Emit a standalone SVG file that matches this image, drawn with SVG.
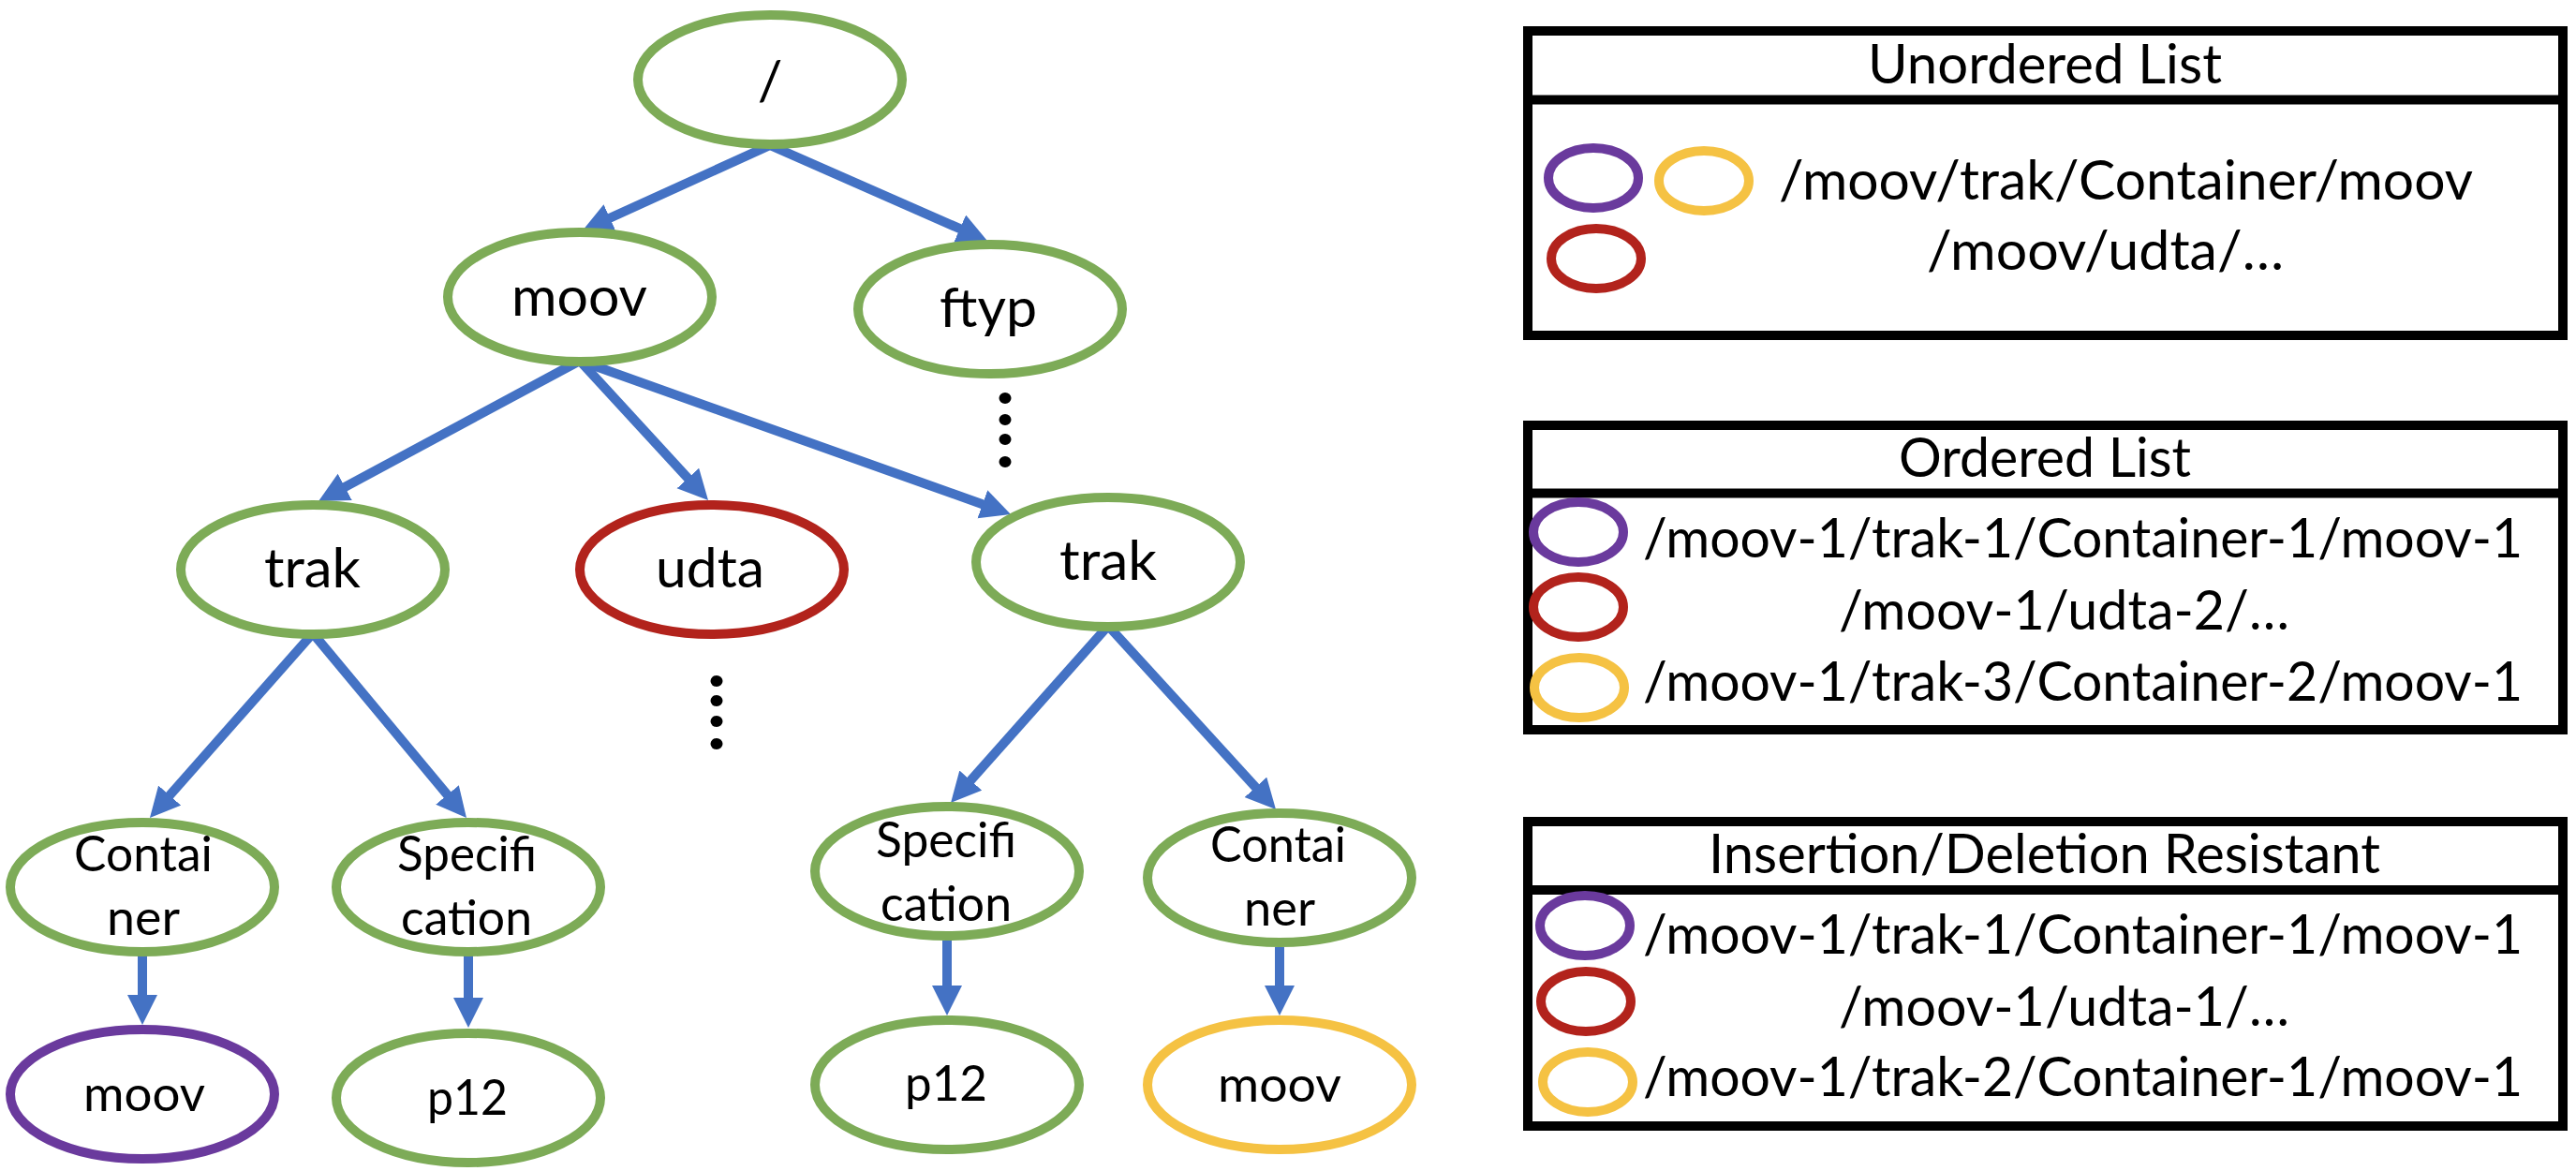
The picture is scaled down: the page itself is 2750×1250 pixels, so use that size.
<svg xmlns="http://www.w3.org/2000/svg" width="2750" height="1250" viewBox="0 0 2750 1250">
<style>
.bg{fill:#ffffff}
.nd{fill:#ffffff;stroke-width:10}
.gr{stroke:#7DAB57}
.rd{stroke:#B2231C}
.pu{stroke:#6A3A9D}
.ye{stroke:#F5C243}
.ring{fill:none;stroke-width:10}
.t{font-family:Lato,'Liberation Sans',sans-serif;font-size:59px;fill:#000000}
.ts{font-family:Lato,'Liberation Sans',sans-serif;font-size:52px;fill:#000000}
.edge{stroke:#4472C4;stroke-width:10;fill:none;marker-end:url(#ah)}
.box{fill:#ffffff;stroke:#000000;stroke-width:10}
.div{stroke:#000000;stroke-width:10}
.dot{fill:#000000}
</style>
<defs>
<marker id="ah" markerUnits="userSpaceOnUse" markerWidth="34" markerHeight="34" refX="20" refY="16" orient="auto">
<path d="M0,0 L32,16 L0,32 z" fill="#4472C4"/>
</marker>
</defs>
<rect class="bg" x="0" y="0" width="2750" height="1250"/>

<g id="connectors">
<line class="edge" x1="822" y1="155" x2="632.9" y2="241"/>
<line class="edge" x1="822" y1="155" x2="1043" y2="252.2"/>
<line class="edge" x1="619" y1="385" x2="350.6" y2="529.3"/>
<line class="edge" x1="619" y1="385" x2="747.9" y2="525.2"/>
<line class="edge" x1="619" y1="385" x2="1067.7" y2="545"/>
<line class="edge" x1="334" y1="676" x2="167.9" y2="864"/>
<line class="edge" x1="334" y1="676" x2="490.3" y2="863.8"/>
<line class="edge" x1="152" y1="1020" x2="152" y2="1082"/>
<line class="edge" x1="500" y1="1020" x2="500" y2="1085"/>
<line class="edge" x1="1183" y1="668" x2="1023" y2="848"/>
<line class="edge" x1="1183" y1="668" x2="1353.9" y2="855.1"/>
<line class="edge" x1="1011" y1="1004" x2="1011" y2="1072"/>
<line class="edge" x1="1366" y1="1011" x2="1366" y2="1072"/>
</g>

<g id="node-root">
<ellipse class="nd gr" cx="822" cy="85" rx="141" ry="69"/>
<text class="t" x="822" y="107" text-anchor="middle">/</text>
</g>
<g id="node-moov">
<ellipse class="nd gr" cx="619" cy="317" rx="141" ry="69"/>
<text class="t" x="546" y="337" textLength="145" lengthAdjust="spacingAndGlyphs">moov</text>
</g>
<g id="node-ftyp">
<ellipse class="nd gr" cx="1057" cy="330" rx="141" ry="69"/>
<text class="t" x="1003" y="349" textLength="104" lengthAdjust="spacingAndGlyphs">ftyp</text>
</g>
<g id="ftyp-more">
<ellipse class="dot" cx="1073" cy="425" rx="6.5" ry="6"/>
<ellipse class="dot" cx="1073" cy="448" rx="6.5" ry="6"/>
<ellipse class="dot" cx="1073" cy="469" rx="6.5" ry="6"/>
<ellipse class="dot" cx="1073" cy="493" rx="6.5" ry="6"/>
</g>
<g id="node-trak1">
<ellipse class="nd gr" cx="334" cy="608" rx="141" ry="69"/>
<text class="t" x="282" y="627" textLength="103" lengthAdjust="spacingAndGlyphs">trak</text>
</g>
<g id="node-udta">
<ellipse class="nd rd" cx="760" cy="608" rx="141" ry="69"/>
<text class="t" x="700" y="627" textLength="116" lengthAdjust="spacingAndGlyphs">udta</text>
</g>
<g id="udta-more">
<ellipse class="dot" cx="765" cy="727" rx="6.5" ry="6"/>
<ellipse class="dot" cx="765" cy="748" rx="6.5" ry="6"/>
<ellipse class="dot" cx="765" cy="770" rx="6.5" ry="6"/>
<ellipse class="dot" cx="765" cy="794" rx="6.5" ry="6"/>
</g>
<g id="node-trak2">
<ellipse class="nd gr" cx="1183" cy="600" rx="141" ry="69"/>
<text class="t" x="1131" y="619" textLength="104" lengthAdjust="spacingAndGlyphs">trak</text>
</g>
<g id="node-container1">
<ellipse class="nd gr" cx="152" cy="947" rx="141" ry="69"/>
<text class="ts" x="79" y="930" textLength="148" lengthAdjust="spacingAndGlyphs">Contai</text>
<text class="ts" x="114" y="998" textLength="78" lengthAdjust="spacingAndGlyphs">ner</text>
</g>
<g id="node-spec1">
<ellipse class="nd gr" cx="500" cy="947" rx="141" ry="69"/>
<text class="ts" x="424" y="930" textLength="149" lengthAdjust="spacingAndGlyphs">Specifi</text>
<text class="ts" x="428" y="998" textLength="140" lengthAdjust="spacingAndGlyphs">cation</text>
</g>
<g id="node-moov-purple">
<ellipse class="nd pu" cx="152" cy="1168" rx="141" ry="69"/>
<text class="ts" x="89" y="1186" textLength="130" lengthAdjust="spacingAndGlyphs">moov</text>
</g>
<g id="node-p12-1">
<ellipse class="nd gr" cx="500" cy="1172" rx="141" ry="69"/>
<text class="ts" x="456" y="1190" textLength="86" lengthAdjust="spacingAndGlyphs">p12</text>
</g>
<g id="node-spec2">
<ellipse class="nd gr" cx="1011" cy="930" rx="141" ry="69"/>
<text class="ts" x="935" y="915" textLength="150" lengthAdjust="spacingAndGlyphs">Specifi</text>
<text class="ts" x="940" y="983" textLength="140" lengthAdjust="spacingAndGlyphs">cation</text>
</g>
<g id="node-container2">
<ellipse class="nd gr" cx="1366" cy="937" rx="141" ry="69"/>
<text class="ts" x="1292" y="920" textLength="145" lengthAdjust="spacingAndGlyphs">Contai</text>
<text class="ts" x="1328" y="988" textLength="76" lengthAdjust="spacingAndGlyphs">ner</text>
</g>
<g id="node-p12-2">
<ellipse class="nd gr" cx="1011" cy="1158" rx="141" ry="69"/>
<text class="ts" x="966" y="1175" textLength="88" lengthAdjust="spacingAndGlyphs">p12</text>
</g>
<g id="node-moov-yellow">
<ellipse class="nd ye" cx="1366" cy="1158" rx="141" ry="69"/>
<text class="ts" x="1300" y="1176" textLength="132" lengthAdjust="spacingAndGlyphs">moov</text>
</g>

<g id="legend-unordered">
<rect class="box" x="1631" y="33" width="1105" height="325"/>
<line class="div" x1="1631" y1="106.5" x2="2736" y2="106.5"/>
<text class="t" x="1994" y="89" textLength="378" lengthAdjust="spacingAndGlyphs">Unordered List</text>
<ellipse class="ring pu" cx="1701" cy="190" rx="48" ry="32"/>
<ellipse class="ring ye" cx="1819" cy="193" rx="48" ry="32"/>
<ellipse class="ring rd" cx="1704" cy="276" rx="48" ry="32"/>
<text class="t" x="1899" y="213" textLength="741" lengthAdjust="spacingAndGlyphs">/moov/trak/Container/moov</text>
<text class="t" x="2057" y="288" textLength="381" lengthAdjust="spacingAndGlyphs">/moov/udta/…</text>
</g>

<g id="legend-ordered">
<rect class="box" x="1631" y="454" width="1105" height="325"/>
<line class="div" x1="1631" y1="526.5" x2="2736" y2="526.5"/>
<text class="t" x="2027" y="509" textLength="312" lengthAdjust="spacingAndGlyphs">Ordered List</text>
<ellipse class="ring pu" cx="1685" cy="568" rx="48" ry="32"/>
<ellipse class="ring rd" cx="1685" cy="648" rx="48" ry="32"/>
<ellipse class="ring ye" cx="1686" cy="734" rx="48" ry="32"/>
<text class="t" x="1754" y="595" textLength="939" lengthAdjust="spacingAndGlyphs">/moov-1/trak-1/Container-1/moov-1</text>
<text class="t" x="1963" y="672" textLength="481" lengthAdjust="spacingAndGlyphs">/moov-1/udta-2/…</text>
<text class="t" x="1754" y="748" textLength="939" lengthAdjust="spacingAndGlyphs">/moov-1/trak-3/Container-2/moov-1</text>
</g>

<g id="legend-insertion">
<rect class="box" x="1631" y="877" width="1105" height="325"/>
<line class="div" x1="1631" y1="950" x2="2736" y2="950"/>
<text class="t" x="1824" y="932" textLength="717" lengthAdjust="spacingAndGlyphs">Insertion/Deletion Resistant</text>
<ellipse class="ring pu" cx="1692" cy="988" rx="48" ry="32"/>
<ellipse class="ring rd" cx="1693" cy="1069" rx="48" ry="32"/>
<ellipse class="ring ye" cx="1695" cy="1155" rx="48" ry="32"/>
<text class="t" x="1754" y="1018" textLength="939" lengthAdjust="spacingAndGlyphs">/moov-1/trak-1/Container-1/moov-1</text>
<text class="t" x="1963" y="1095" textLength="481" lengthAdjust="spacingAndGlyphs">/moov-1/udta-1/…</text>
<text class="t" x="1754" y="1170" textLength="939" lengthAdjust="spacingAndGlyphs">/moov-1/trak-2/Container-1/moov-1</text>
</g>
</svg>
